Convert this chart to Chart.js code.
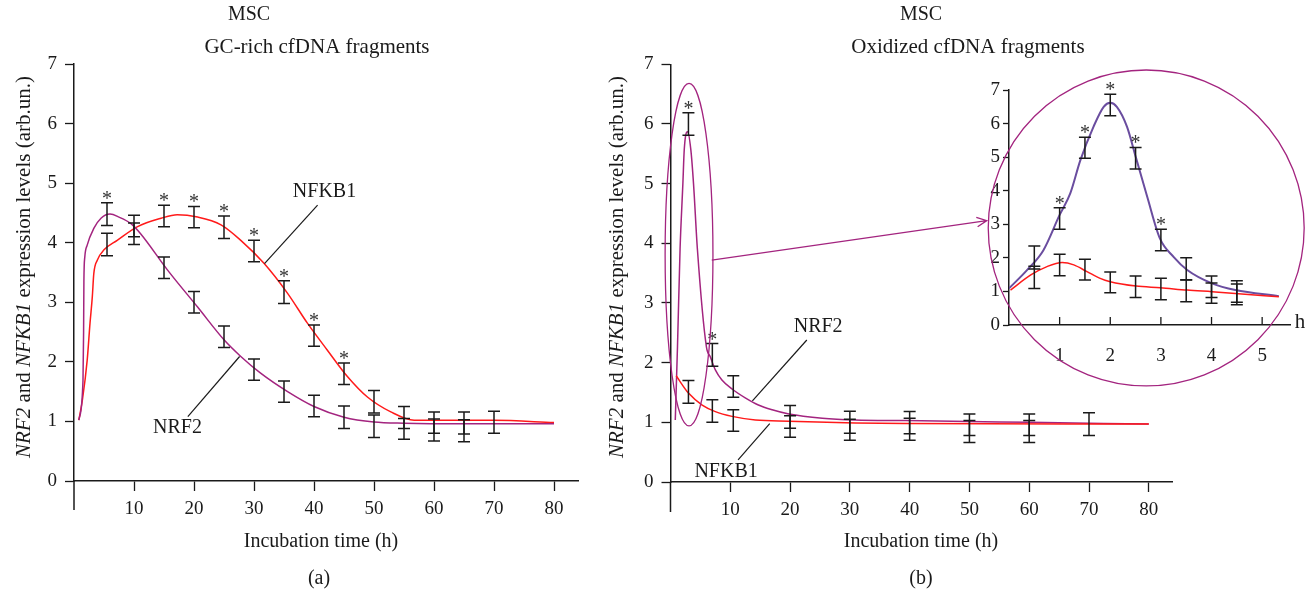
<!DOCTYPE html>
<html>
<head>
<meta charset="utf-8">
<script src="https://cdn.jsdelivr.net/npm/chart.js@4.4.0/dist/chart.umd.min.js"></script>
<style>
  body { margin: 0; background: #fff; width: 1313px; height: 594px; overflow: hidden; position: relative; }
  canvas { position: absolute; }
</style>
</head>
<body>
<canvas id="chartA" width="640" height="594" style="left:0px;top:0px"></canvas>
<canvas id="chartB" width="723" height="594" style="left:590px;top:0px"></canvas>
<canvas id="chartC" width="343" height="334" style="left:970px;top:60px"></canvas>
<script>
// ---- panel (a): GC-rich cfDNA fragments ----
var aTimes = [5.5, 10, 15, 20, 25, 30, 35, 40, 45, 50, 55, 60, 65, 70];
var aNrf2Mean = [4.48, 4.28, 3.58, 3.00, 2.42, 1.87, 1.50, 1.26, 1.07, 0.92, 0.875, 0.855, 0.845, null];
var aNrf2Err = [0.19, 0.18, 0.18, 0.18, 0.18, 0.18, 0.18, 0.18, 0.19, 0.19, 0.175, 0.185, 0.185, null];
var aNrf2Star = [1, 0, 0, 0, 0, 0, 0, 0, 0, 0, 0, 0, 0, 0];
var aNfkb1Mean = [3.97, 4.15, 4.45, 4.43, 4.26, 3.86, 3.17, 2.44, 1.80, 1.33, 1.065, 0.98, 0.975, 0.985];
var aNfkb1Err = [0.19, 0.18, 0.18, 0.18, 0.19, 0.18, 0.19, 0.18, 0.18, 0.19, 0.185, 0.18, 0.185, 0.185];
var aNfkb1Star = [0, 0, 1, 1, 1, 1, 1, 1, 1, 0, 0, 0, 0, 0];
// fitted curves
var aNrf2CurveX = [0.8, 1.5, 1.6, 1.65, 1.8, 2.2, 3.3, 4.5, 6, 7.5, 9.5, 11.1, 15.6, 20.6, 25, 27.8, 31.1, 35.6, 40, 45, 50, 55, 65, 80];
var aNrf2CurveY = [1.02, 1.69, 2.5, 3.35, 3.76, 3.96, 4.24, 4.41, 4.48, 4.43, 4.32, 4.15, 3.54, 2.92, 2.37, 2.09, 1.81, 1.50, 1.25, 1.07, 0.99, 0.97, 0.96, 0.96];
var aNfkb1CurveX = [0.8, 1.4, 2.2, 2.67, 3.05, 3.3, 3.9, 5, 7.2, 10.6, 14.5, 17.2, 20.6, 24.5, 27.8, 31.7, 35.6, 38.9, 42.2, 45.6, 48.9, 52.8, 56.7, 70, 80];
var aNfkb1CurveY = [1.02, 1.36, 2.03, 2.65, 3.09, 3.48, 3.71, 3.88, 4.04, 4.27, 4.41, 4.47, 4.43, 4.30, 4.04, 3.65, 3.15, 2.65, 2.20, 1.75, 1.41, 1.16, 1.02, 1.02, 0.98];

// ---- panel (b): oxidized cfDNA fragments ----
var bTimes = [3, 7, 10.5, 20, 30, 40, 50, 60, 70];
var bNrf2Mean = [6.0, 2.13, 1.60, 1.09, 1.00, 0.995, 0.96, 0.96, null];
var bNrf2Err = [0.19, 0.19, 0.18, 0.19, 0.185, 0.185, 0.18, 0.18, null];
var bNrf2Star = [1, 1, 0, 0, 0, 0, 0, 0, 0];
var bNfkb1Mean = [1.51, 1.19, 1.03, 0.93, 0.875, 0.885, 0.845, 0.845, 0.97];
var bNfkb1Err = [0.19, 0.19, 0.18, 0.18, 0.175, 0.185, 0.185, 0.185, 0.19];
var bNfkb1Star = [0, 0, 0, 0, 0, 0, 0, 0, 0];
var bNrf2CurveX = [0.8, 1.17, 1.6, 2.07, 2.3, 2.85, 3.4, 3.85, 4.5, 6.0, 6.65, 7.5, 8.6, 10.4, 12.5, 14.7, 17, 19.8, 25.4, 30.9, 39.3, 60, 80];
var bNrf2CurveY = [1.04, 2.27, 3.9, 5.0, 5.57, 5.87, 5.57, 5.0, 3.9, 2.27, 2.10, 1.88, 1.71, 1.55, 1.41, 1.29, 1.21, 1.14, 1.07, 1.04, 1.03, 1.0, 0.97];
var bNfkb1CurveX = [0.95, 3.0, 5.3, 7.5, 10.3, 14.2, 19.8, 30.9, 39.3, 80];
var bNfkb1CurveY = [1.78, 1.49, 1.29, 1.18, 1.10, 1.04, 1.02, 0.99, 0.98, 0.97];

// ---- inset of panel (b): first hours ----
var cTimes = [0.5, 1, 1.5, 2, 2.5, 3, 3.5, 4, 4.5];
var cNrf2Mean = [2.01, 3.17, 5.28, 6.55, 4.97, 2.53, 1.67, 1.14, 1.0];
var cNrf2Err = [0.34, 0.32, 0.31, 0.32, 0.32, 0.32, 0.33, 0.32, 0.32];
var cNrf2Star = [0, 1, 1, 1, 1, 1, 0, 0, 0];
var cNfkb1Mean = [1.42, 1.79, 1.65, 1.27, 1.14, 1.07, 1.02, 0.95, 0.91];
var cNfkb1Err = [0.33, 0.32, 0.31, 0.31, 0.32, 0.32, 0.33, 0.30, 0.31];
var cNfkb1Star = [0, 0, 0, 0, 0, 0, 0, 0, 0];
var cNrf2CurveX = [0, 0.36, 0.68, 1.0, 1.21, 1.41, 1.67, 1.87, 2.0, 2.13, 2.33, 2.51, 2.73, 2.98, 3.25, 3.52, 4.01, 4.47, 5.33];
var cNrf2CurveY = [1.09, 1.64, 2.23, 3.28, 3.92, 4.91, 5.91, 6.5, 6.62, 6.5, 5.91, 4.97, 3.82, 2.58, 2.03, 1.64, 1.24, 1.04, 0.86];
var cNfkb1CurveX = [0.03, 0.43, 0.75, 1.05, 1.28, 1.54, 1.8, 2.0, 2.51, 2.99, 3.52, 4.01, 4.47, 5.33];
var cNfkb1CurveY = [1.04, 1.49, 1.74, 1.86, 1.79, 1.59, 1.39, 1.29, 1.16, 1.11, 1.04, 0.99, 0.94, 0.84];

var mainXTicks = [10, 20, 30, 40, 50, 60, 70, 80];
var insetXTicks = [1, 2, 3, 4, 5];

var SERIF = '"Liberation Serif", "Times New Roman", serif';
var INK = '#1a1a1a';
var PURPLE = '#a3247f';
var RED = '#ff1a1a';

function pts(xs, ys) {
  return xs.map(function (x, i) { return { x: x, y: ys[i] }; });
}

function curve(xs, ys, color, width) {
  return {
    data: pts(xs, ys),
    borderColor: color,
    borderWidth: width || 1.5,
    pointRadius: 0,
    fill: false,
    cubicInterpolationMode: 'monotone'
  };
}

function drawErrorBars(chart, groups, cap, starFont) {
  var ctx = chart.ctx, xs = chart.scales.x, ys = chart.scales.y;
  ctx.save();
  ctx.strokeStyle = INK;
  ctx.fillStyle = '#333';
  ctx.lineWidth = 1.5;
  ctx.font = starFont;
  ctx.textAlign = 'center';
  ctx.textBaseline = 'alphabetic';
  groups.forEach(function (g) {
    g.x.forEach(function (t, i) {
      if (g.mean[i] == null) return;
      var px = xs.getPixelForValue(t);
      var top = ys.getPixelForValue(g.mean[i] + g.err[i]);
      var bot = ys.getPixelForValue(g.mean[i] - g.err[i]);
      ctx.beginPath();
      ctx.moveTo(px, top); ctx.lineTo(px, bot);
      ctx.moveTo(px - cap, top); ctx.lineTo(px + cap, top);
      ctx.moveTo(px - cap, bot); ctx.lineTo(px + cap, bot);
      ctx.stroke();
      if (g.star[i]) ctx.fillText('*', px, top + 2);
    });
  });
  ctx.restore();
}

function text(ctx, s, x, y, size, align) {
  ctx.save();
  ctx.fillStyle = INK;
  ctx.font = size + 'px ' + SERIF;
  ctx.textAlign = align || 'center';
  ctx.textBaseline = 'middle';
  ctx.fillText(s, x, y);
  ctx.restore();
}

function yTitle(ctx, cx, cy, size) {
  var parts = [['NRF2', true], [' and ', false], ['NFKB1', true], [' expression levels (arb.un.)', false]];
  ctx.save();
  ctx.fillStyle = INK;
  ctx.translate(cx, cy);
  ctx.rotate(-Math.PI / 2);
  var total = 0;
  parts.forEach(function (p) {
    ctx.font = (p[1] ? 'italic ' : '') + size + 'px ' + SERIF;
    total += ctx.measureText(p[0]).width;
  });
  var x = -total / 2;
  ctx.textBaseline = 'middle';
  ctx.textAlign = 'left';
  parts.forEach(function (p) {
    ctx.font = (p[1] ? 'italic ' : '') + size + 'px ' + SERIF;
    ctx.fillText(p[0], x, 0);
    x += ctx.measureText(p[0]).width;
  });
  ctx.restore();
}

function leader(chart, label, lx, ly, x1, y1, x2, y2) {
  var ctx = chart.ctx, xs = chart.scales.x, ys = chart.scales.y;
  ctx.save();
  ctx.strokeStyle = INK;
  ctx.lineWidth = 1.2;
  ctx.beginPath();
  ctx.moveTo(xs.getPixelForValue(x1), ys.getPixelForValue(y1));
  ctx.lineTo(xs.getPixelForValue(x2), ys.getPixelForValue(y2));
  ctx.stroke();
  ctx.restore();
  text(ctx, label, xs.getPixelForValue(lx), ys.getPixelForValue(ly), 20);
}

function mainScales(left, xHeight, xMax) {
  return {
    x: {
      type: 'linear', min: 0, max: xMax,
      afterFit: function (s) { s.height = xHeight; },
      afterBuildTicks: function (s) { s.ticks = mainXTicks.map(function (v) { return { value: v }; }); },
      grid: { drawOnChartArea: false, drawTicks: true, tickLength: 10, tickWidth: 1.3, tickColor: INK },
      border: { display: true, color: INK, width: 1.5 },
      ticks: { color: INK, padding: 7, font: { family: SERIF, size: 19 }, maxRotation: 0 }
    },
    y: {
      type: 'linear', min: 0, max: 7,
      afterFit: function (s) { s.width = left; },
      grid: { drawOnChartArea: false, drawTicks: true, tickLength: 9, tickWidth: 1.3, tickColor: INK },
      border: { display: true, color: INK, width: 1.5 },
      ticks: { stepSize: 1, color: INK, padding: 8, font: { family: SERIF, size: 19 } }
    }
  };
}

function axisTail(chart, len) {
  var ctx = chart.ctx, a = chart.chartArea;
  ctx.save();
  ctx.strokeStyle = INK;
  ctx.lineWidth = 1.5;
  ctx.beginPath();
  ctx.moveTo(a.left, a.bottom);
  ctx.lineTo(a.left, a.bottom + len);
  ctx.stroke();
  ctx.restore();
}

var baseOpts = {
  responsive: false,
  animation: false,
  events: [],
  plugins: { legend: { display: false }, tooltip: { enabled: false } }
};

// ---------- chart (a) ----------
new Chart(document.getElementById('chartA'), {
  type: 'line',
  data: {
    datasets: [
      curve(aNrf2CurveX, aNrf2CurveY, PURPLE),
      curve(aNfkb1CurveX, aNfkb1CurveY, RED)
    ]
  },
  options: Object.assign({}, baseOpts, {
    layout: { padding: { top: 64, right: 62, left: 0, bottom: 0 } },
    scales: mainScales(74, 113, 84)
  }),
  plugins: [{
    id: 'decorA',
    afterDraw: function (chart) {
      var ctx = chart.ctx;
      axisTail(chart, 29);
      drawErrorBars(chart, [
        { x: aTimes, mean: aNrf2Mean, err: aNrf2Err, star: aNrf2Star },
        { x: aTimes, mean: aNfkb1Mean, err: aNfkb1Err, star: aNfkb1Star }
      ], 6, '20px ' + SERIF);
      leader(chart, 'NFKB1', 41.75, 4.85, 40.6, 4.63, 31.75, 3.65);
      leader(chart, 'NRF2', 17.25, 0.89, 18.97, 1.08, 27.6, 2.09);
      text(ctx, 'MSC', 249, 15, 20);
      text(ctx, 'GC-rich cfDNA fragments', 317, 47, 21);
      text(ctx, 'Incubation time (h)', 321, 542, 20);
      text(ctx, '(a)', 319, 579, 20);
      yTitle(ctx, 24, 267, 21);
    }
  }]
});

// ---------- chart (b) ----------
new Chart(document.getElementById('chartB'), {
  type: 'line',
  data: {
    datasets: [
      curve(bNfkb1CurveX, bNfkb1CurveY, RED),
      curve(bNrf2CurveX, bNrf2CurveY, PURPLE)
    ]
  },
  options: Object.assign({}, baseOpts, {
    layout: { padding: { top: 64.3, right: 140.3, left: 0, bottom: 0 } },
    scales: mainScales(80.5, 112, 84)
  }),
  plugins: [{
    id: 'decorB',
    afterDraw: function (chart) {
      var ctx = chart.ctx, xs = chart.scales.x, ys = chart.scales.y;
      axisTail(chart, 30);
      drawErrorBars(chart, [
        { x: bTimes, mean: bNrf2Mean, err: bNrf2Err, star: bNrf2Star },
        { x: bTimes, mean: bNfkb1Mean, err: bNfkb1Err, star: bNfkb1Star }
      ], 6, '20px ' + SERIF);
      leader(chart, 'NRF2', 24.7, 2.61, 22.8, 2.38, 13.7, 1.36);
      leader(chart, 'NFKB1', 9.3, 0.18, 11.3, 0.37, 16.6, 0.98);

      // ellipse around the early peak and the pointer to the inset
      var cx = xs.getPixelForValue(3.1), cy = ys.getPixelForValue(3.81);
      var rx = xs.getPixelForValue(7.1) - cx, ry = cy - ys.getPixelForValue(6.68);
      ctx.save();
      ctx.strokeStyle = PURPLE;
      ctx.lineWidth = 1.3;
      ctx.beginPath();
      ctx.ellipse(cx, cy, rx, ry, 0, 0, Math.PI * 2);
      ctx.stroke();
      var sx = xs.getPixelForValue(6.9), sy = ys.getPixelForValue(3.72);
      var tx = xs.getPixelForValue(52.9), ty = ys.getPixelForValue(4.38);
      var ang = Math.atan2(ty - sy, tx - sx);
      ctx.beginPath();
      ctx.moveTo(sx, sy); ctx.lineTo(tx, ty);
      ctx.moveTo(tx - 11 * Math.cos(ang - 0.45), ty - 11 * Math.sin(ang - 0.45));
      ctx.lineTo(tx, ty);
      ctx.lineTo(tx - 11 * Math.cos(ang + 0.45), ty - 11 * Math.sin(ang + 0.45));
      ctx.stroke();
      ctx.restore();

      text(ctx, 'MSC', 331, 15, 20);
      text(ctx, 'Oxidized cfDNA fragments', 378, 47, 21);
      text(ctx, 'Incubation time (h)', 331, 542, 20);
      text(ctx, '(b)', 331, 579, 20);
      yTitle(ctx, 27, 267, 21);
    }
  }]
});

// ---------- inset ----------
new Chart(document.getElementById('chartC'), {
  type: 'line',
  data: {
    datasets: [
      curve(cNfkb1CurveX, cNfkb1CurveY, RED),
      curve(cNrf2CurveX, cNrf2CurveY, '#6a4d9f', 2)
    ]
  },
  options: Object.assign({}, baseOpts, {
    layout: { padding: { top: 30, right: 23, left: 0, bottom: 0 } },
    scales: {
      x: {
        type: 'linear', min: 0, max: 5.55,
        afterFit: function (s) { s.height = 69; },
        afterBuildTicks: function (s) { s.ticks = insetXTicks.map(function (v) { return { value: v }; }); },
        grid: { display: false },
        border: { display: true, color: INK, width: 1.5 },
        ticks: { color: INK, padding: 12, font: { family: SERIF, size: 19 }, maxRotation: 0 }
      },
      y: {
        type: 'linear', min: 0, max: 7,
        afterFit: function (s) { s.width = 39; },
        grid: { drawOnChartArea: false, drawTicks: true, tickLength: 6, tickWidth: 1.3, tickColor: INK },
        border: { display: true, color: INK, width: 1.5 },
        ticks: { stepSize: 1, color: INK, padding: 3, font: { family: SERIF, size: 19 } }
      }
    }
  }),
  plugins: [{
    id: 'decorC',
    afterDraw: function (chart) {
      var ctx = chart.ctx, xs = chart.scales.x, ys = chart.scales.y, a = chart.chartArea;
      // inner tick marks on the time axis
      ctx.save();
      ctx.strokeStyle = INK;
      ctx.lineWidth = 1.3;
      ctx.beginPath();
      xs.ticks.forEach(function (t) {
        var px = xs.getPixelForValue(t.value);
        ctx.moveTo(px, a.bottom); ctx.lineTo(px, a.bottom - 8);
      });
      ctx.stroke();
      ctx.restore();
      drawErrorBars(chart, [
        { x: cTimes, mean: cNrf2Mean, err: cNrf2Err, star: cNrf2Star },
        { x: cTimes, mean: cNfkb1Mean, err: cNfkb1Err, star: cNfkb1Star }
      ], 6, '20px ' + SERIF);
      text(ctx, 'h', a.right + 10, a.bottom - 3, 21);
      // magnifier circle
      var cx = xs.getPixelForValue(2.71), cy = ys.getPixelForValue(2.89);
      var r = xs.getPixelForValue(2.71 + 3.12) - cx;
      ctx.save();
      ctx.strokeStyle = PURPLE;
      ctx.lineWidth = 1.3;
      ctx.beginPath();
      ctx.arc(cx, cy, r, 0, Math.PI * 2);
      ctx.stroke();
      ctx.restore();
    }
  }]
});
</script>
</body>
</html>
